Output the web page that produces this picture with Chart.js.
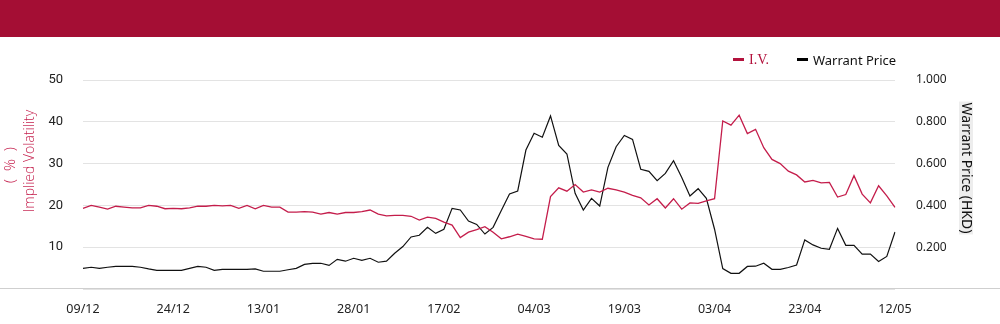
<!DOCTYPE html>
<html>
<head>
<meta charset="utf-8">
<script src="https://cdn.jsdelivr.net/npm/chart.js@4.4.1/dist/chart.umd.min.js"></script>
<style>
  html, body { margin: 0; padding: 0; background: #fff; }
  #wrap { position: relative; width: 1000px; height: 324px; overflow: hidden; }
  #topo { position: absolute; left: 0; top: 0; width: 1000px; height: 37px; background: #a40e34; }
  #linhaBase { position: absolute; left: 0; top: 288px; width: 1000px; height: 1px; background: #cfcfcf; }
  #legenda { position: absolute; top: 49px; left: 733px; font: 13px "Noto Sans", sans-serif; white-space: nowrap; }
  #legenda span { display: inline-block; vertical-align: middle; }
  .tra { width: 11px; height: 3px; margin-right: 5px; }
  canvas { position: absolute; left: 0; top: 0; }
</style>
</head>
<body>
<div id="wrap">
  <canvas id="grafico" width="1000" height="324"></canvas>
  <div id="linhaBase"></div>
  <div id="topo"></div>
  <div id="legenda">
    <span class="tra" style="background:#b3123d"></span><span style="color:#b3123d;font-family:'Liberation Serif',serif;font-size:14px;margin-right:28px">I.V.</span><span class="tra" style="background:#000"></span><span style="color:#111">Warrant Price</span>
  </div>
</div>
<script>
// datas (pregões) - rótulo a cada 11 pontos
const datas = [
  "09/12","10/12","11/12","12/12","13/12","16/12","17/12","18/12","19/12","20/12","23/12","24/12",
  "27/12","30/12","31/12","02/01","03/01","06/01","07/01","08/01","09/01","10/01","13/01",
  "14/01","15/01","16/01","17/01","20/01","21/01","22/01","23/01","24/01","27/01","28/01",
  "03/02","04/02","05/02","06/02","07/02","10/02","11/02","12/02","13/02","14/02","17/02",
  "18/02","19/02","20/02","21/02","24/02","25/02","26/02","27/02","28/02","03/03","04/03",
  "05/03","06/03","07/03","10/03","11/03","12/03","13/03","14/03","17/03","18/03","19/03",
  "20/03","21/03","24/03","25/03","26/03","27/03","28/03","31/03","01/04","02/04","03/04",
  "07/04","08/04","09/04","10/04","11/04","14/04","15/04","16/04","17/04","22/04","23/04",
  "24/04","25/04","28/04","29/04","30/04","02/05","06/05","07/05","08/05","09/05","12/05"
];

// volatilidade implícita (%)
const volImplicita = [
  19.3, 20.0, 19.6, 19.1, 19.8, 19.6, 19.4, 19.4, 20.0, 19.8, 19.2, 19.3, 19.2, 19.4, 19.8, 19.8, 20.0, 19.9, 20.0, 19.3, 20.0, 19.2, 20.0, 19.6, 19.6,
  18.4, 18.4, 18.5, 18.4, 17.9, 18.3, 17.9, 18.3, 18.3, 18.5, 18.9, 17.9, 17.5, 17.6, 17.6, 17.4, 16.5, 17.2, 16.9, 16.0, 15.3, 12.3, 13.6, 14.2, 14.9, 13.6, 12.0, 12.5,
  13.1, 12.6, 12.0, 11.9, 22.1, 24.2, 23.4, 25.0, 23.2, 23.7, 23.2, 24.1, 23.7, 23.2, 22.4, 21.8, 20.1, 21.6, 19.4, 21.6, 19.1, 20.6, 20.5, 21.1, 21.6,
  40.2, 39.2, 41.6, 37.2, 38.2, 33.8, 31.0, 30.0, 28.2, 27.3, 25.6, 26.0, 25.4, 25.5, 22.0, 22.6, 27.1, 22.7, 20.6, 24.7, 22.3, 19.5
];

// preço do warrant (HKD)
const precoWarrant = [
  0.099, 0.104, 0.099, 0.104, 0.108, 0.108, 0.108, 0.104, 0.096, 0.089, 0.089, 0.089, 0.089, 0.099, 0.108, 0.104, 0.089, 0.094, 0.094, 0.094, 0.094, 0.096, 0.085, 0.085, 0.085, 0.092, 0.099,
  0.118, 0.123, 0.123, 0.113, 0.142, 0.133, 0.147, 0.137, 0.147, 0.128, 0.133, 0.171, 0.203, 0.249, 0.257, 0.295, 0.266, 0.286, 0.386, 0.378, 0.325, 0.309, 0.263, 0.295, 0.376, 0.455,
  0.469, 0.665, 0.745, 0.726, 0.828, 0.687, 0.646, 0.458, 0.378, 0.434, 0.397, 0.582, 0.681, 0.735, 0.716, 0.573, 0.563, 0.518, 0.553, 0.614, 0.534, 0.445, 0.480, 0.434, 0.286,
  0.098, 0.075, 0.075, 0.108, 0.109, 0.123, 0.094, 0.094, 0.103, 0.115, 0.235, 0.211, 0.195, 0.190, 0.290, 0.209, 0.209, 0.167, 0.167, 0.132, 0.156, 0.273
];

const ticksVol = [10, 20, 30, 40, 50];
const ticksPreco = [0.2, 0.4, 0.6, 0.8, 1.0];

const vermelho = "#c41d4b";

// títulos dos eixos desenhados à mão (posição igual ao original)
const titulosEixos = {
  id: "titulosEixos",
  afterDraw(chart) {
    const ctx = chart.ctx;
    ctx.save();
    ctx.textAlign = "center";
    ctx.textBaseline = "middle";

    ctx.fillStyle = vermelho;
    ctx.font = "300 14px 'Open Sans', sans-serif";
    ctx.translate(30, 161);
    ctx.rotate(-Math.PI / 2);
    ctx.fillText("Implied Volatility", 0, 0);
    ctx.font = "300 15px 'Open Sans', sans-serif";
    ctx.fillText("(  %  )", -4, -19);
    ctx.restore();

    ctx.save();
    ctx.textAlign = "center";
    ctx.textBaseline = "middle";
    ctx.translate(966, 168);
    ctx.rotate(Math.PI / 2);
    ctx.font = "14px 'Noto Sans', sans-serif";
    const w = ctx.measureText("Warrant Price (HKD)").width;
    ctx.fillStyle = "#ededed";
    ctx.fillRect(-w / 2 - 1, -7, w + 2, 14);
    ctx.fillStyle = "#111";
    ctx.fillText("Warrant Price (HKD)", 0, 0);
    ctx.restore();
  }
};

new Chart(document.getElementById("grafico").getContext("2d"), {
  type: "line",
  data: {
    labels: datas,
    datasets: [
      {
        label: "I.V.",
        data: volImplicita,
        borderColor: vermelho,
        borderWidth: 1.3,
        pointRadius: 0,
        tension: 0,
        yAxisID: "y",
      },
      {
        label: "Warrant Price",
        data: precoWarrant,
        borderColor: "#111",
        borderWidth: 1.2,
        pointRadius: 0,
        tension: 0,
        yAxisID: "y1",
      },
    ],
  },
  options: {
    responsive: false,
    animation: false,
    layout: { padding: { top: 80, left: 0, right: 0, bottom: 0 } },
    plugins: { legend: { display: false }, tooltip: { enabled: false } },
    scales: {
      x: {
        grid: { display: false },
        border: { display: false },
        afterFit: s => { s.height = 35; },
        ticks: {
          autoSkip: false,
          maxRotation: 0,
          padding: 5,
          color: "#222",
          font: { family: "'Noto Sans', sans-serif", size: 12.5 },
          callback: (v, i) => (i % 11 === 0 ? datas[i] : ""),
        },
      },
      y: {
        position: "left",
        min: 0,
        max: 50,
        afterFit: s => { s.width = 83; },
        afterBuildTicks: s => { s.ticks = [0].concat(ticksVol).map(v => ({ value: v })); },
        grid: { color: "#e3e3e3", drawTicks: false },
        border: { display: false },
        ticks: {
          padding: 20,
          color: "#222",
          font: { family: "Roboto, sans-serif", size: 13 },
          callback: v => (v === 0 ? "" : v),
        },
      },
      y1: {
        position: "right",
        min: 0,
        max: 1,
        afterFit: s => { s.width = 105; },
        afterBuildTicks: s => { s.ticks = [0].concat(ticksPreco).map(v => ({ value: v })); },
        grid: { display: false },
        border: { display: false },
        ticks: {
          padding: 13,
          color: "#222",
          font: { family: "'Noto Sans', sans-serif", size: 12 },
          callback: v => (v === 0 ? "" : v.toFixed(3)),
        },
      },
    },
  },
  plugins: [titulosEixos],
});
</script>
</body>
</html>
